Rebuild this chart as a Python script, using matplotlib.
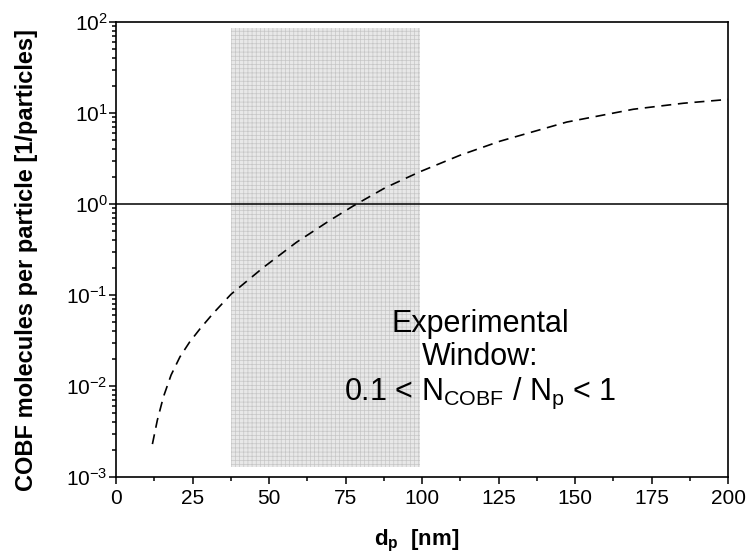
import matplotlib
matplotlib.use("Agg")
import matplotlib.pyplot as plt
from matplotlib.ticker import MultipleLocator, LogLocator, FixedLocator, FixedFormatter

plt.rcParams['font.family'] = ['Liberation Sans', 'DejaVu Sans']
plt.rcParams['mathtext.fontset'] = 'custom'
plt.rcParams['mathtext.rm'] = 'Liberation Sans'
plt.rcParams['mathtext.it'] = 'Liberation Sans:italic'
plt.rcParams['mathtext.bf'] = 'Liberation Sans:bold'
plt.rcParams['hatch.linewidth'] = 0.5
plt.rcParams['hatch.color'] = '#c6c6c6'

# particle diameter [nm] vs COBF molecules per particle
dp = [11.9, 13.5, 15.5, 18.0, 20.9, 24.0, 27.5, 31.8, 37.6, 48.1, 59.0, 69.9,
      77.6, 88.0, 99.3, 112.4, 125.5, 147.3, 169.1, 185.4, 200.0]
n_cobf = [0.0023, 0.0042, 0.0076, 0.0132, 0.0209, 0.0302, 0.0427, 0.0631,
          0.102, 0.200, 0.380, 0.661, 0.955, 1.51, 2.26, 3.43, 4.90, 7.95,
          11.0, 12.8, 14.1]

# experimental window
window_dp = [37.6, 99.3]
window_n = [0.00129, 86.0]

ytick_vals = [1e-3, 1e-2, 1e-1, 1e0, 1e1, 1e2]
ytick_labels = [r'$\mathregular{10^{-3}}$', r'$\mathregular{10^{-2}}$', r'$\mathregular{10^{-1}}$',
                r'$\mathregular{10^{0}}$', r'$\mathregular{10^{1}}$', r'$\mathregular{10^{2}}$']

fig = plt.figure(figsize=(7.54, 5.56), dpi=100)
ax = fig.add_axes([116 / 754, 1 - 477 / 556, 612 / 754, 455 / 556])

ax.fill_between(window_dp, window_n[0], window_n[1], facecolor='#e8e8e8',
                edgecolor='#c6c6c6', hatch='++++', linewidth=0, zorder=1)
ax.axhline(1.0, color='black', lw=1.1, zorder=2)
ax.plot(dp, n_cobf, color='black', lw=1.2, dashes=(6, 4), zorder=3)

ax.set_yscale('log')
ax.set_xlim(0, 200)
ax.set_ylim(1e-3, 1e2)

ax.xaxis.set_major_locator(MultipleLocator(25))
ax.xaxis.set_minor_locator(MultipleLocator(12.5))
ax.yaxis.set_major_locator(FixedLocator(ytick_vals))
ax.yaxis.set_major_formatter(FixedFormatter(ytick_labels))
ax.yaxis.set_minor_locator(LogLocator(base=10, subs=range(2, 10)))
ax.yaxis.set_minor_formatter(FixedFormatter([]))

ax.tick_params(which='both', direction='out', top=False, right=False, width=1.1)
ax.tick_params(which='major', length=5, labelsize=15)
ax.tick_params(axis='x', which='major', pad=4)
ax.tick_params(axis='y', which='major', pad=1)
ax.tick_params(which='minor', length=3)
for s in ax.spines.values():
    s.set_linewidth(1.2)

ax.text(0.595, 0.319, 'Experimental', transform=ax.transAxes, ha='center',
        va='baseline', fontsize=22)
ax.text(0.595, 0.246, 'Window:', transform=ax.transAxes, ha='center',
        va='baseline', fontsize=22)
ax.text(0.595, 0.169, r'0.1 < N$_{\mathregular{COBF}}$ / N$_{\mathregular{p}}$ < 1',
        transform=ax.transAxes, ha='center', va='baseline', fontsize=22)

fig.text(27 / 754, 1 - 260 / 556, 'COBF molecules per particle [1/particles]',
         rotation=90, ha='center', va='center', fontsize=17, fontweight='bold')
fig.text(417 / 754, 1 - 541 / 556, r'$\mathbf{d_p}$  [nm]', ha='center',
         va='center', fontsize=16, fontweight='bold')

fig.savefig('out.png', dpi=100)
